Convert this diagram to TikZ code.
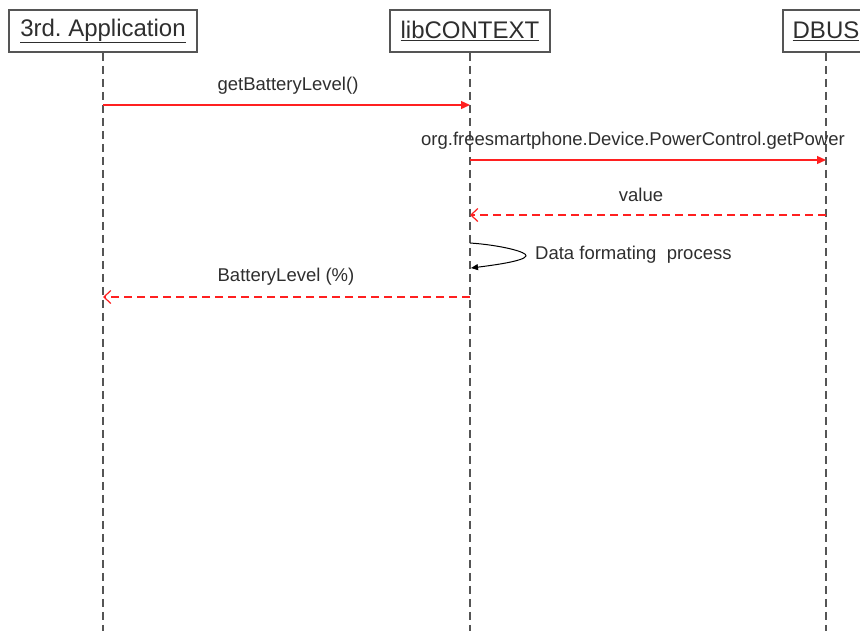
\documentclass[tikz,border=0pt]{standalone}
\usepackage{fontspec}
\setmainfont{Liberation Sans}
\usetikzlibrary{arrows.meta}
\frenchspacing
\definecolor{inkgray}{HTML}{2E2E2E}
\definecolor{linegray}{HTML}{555555}
\definecolor{msgred}{HTML}{FF2020}
\begin{document}
\begin{tikzpicture}[x=1pt,y=-1pt,
  actor/.style={draw=linegray,line width=1.5pt,fill=white,minimum height=42pt,
    inner xsep=8pt,font=\fontsize{24}{26}\selectfont,text=inkgray},
  lifeline/.style={draw=linegray,line width=1.5pt,dash pattern=on 8pt off 5pt},
  call/.style={draw=msgred,line width=1.3pt,-{Triangle[length=9pt,width=8pt]}},
  reply/.style={draw=msgred,line width=1.2pt,dash pattern=on 8pt off 5pt,
    -{Straight Barb[length=7pt,width=13pt]}},
  msglabel/.style={font=\fontsize{18.5}{20}\selectfont,text=inkgray,inner sep=0pt}]
\useasboundingbox (0,0) rectangle (860,630);
\clip (0,0) rectangle (860,630);

% participants
\node[actor,minimum width=188pt] (app) at (103,31) {\underline{3rd. Application}};
\node[actor,minimum width=160pt] (ctx) at (470,31) {\underline{libCONTEXT}};
\node[actor,minimum width=86pt] (dbus) at (826,31) {\underline{DBUS}};

% lifeline ends
\coordinate (appE) at (103,632);
\coordinate (ctxE) at (470,632);
\coordinate (dbusE) at (826,632);
\draw[lifeline] (app.south) -- (appE);
\draw[lifeline] (ctx.south) -- (ctxE);
\draw[lifeline] (dbus.south) -- (dbusE);

% message anchors on the lifelines
\coordinate (a1) at (103,105);  \coordinate (c1) at (470,105);
\coordinate (c2) at (470,160);  \coordinate (d2) at (826,160);
\coordinate (d3) at (826,215);  \coordinate (c3) at (470,215);
\coordinate (c4) at (470,297);  \coordinate (a4) at (103,297);
\coordinate (s1) at (470,243);  \coordinate (s2) at (471,268);

\draw[call] (a1) -- (c1);
\node[msglabel] at (288,86) {getBatteryLevel()};

\draw[call] (c2) -- (d2);
\node[msglabel] at (633,141) {org.freesmartphone.Device.PowerControl.getPower};

\draw[reply] (d3) -- (c3);
\node[msglabel] at (641,195) {value};

% self call
\draw[draw=black,line width=1pt,-{Triangle[length=7pt,width=6pt]}]
  (s1) .. controls (500,245) and (528,252) .. (526,256)
       .. controls (524,261) and (495,265) .. (s2);
\node[msglabel,anchor=west] at (535,255) {Data formating\ \ process};

\draw[reply] (c4) -- (a4);
\node[msglabel] at (286,277) {BatteryLevel (\%)};
\end{tikzpicture}
\end{document}
